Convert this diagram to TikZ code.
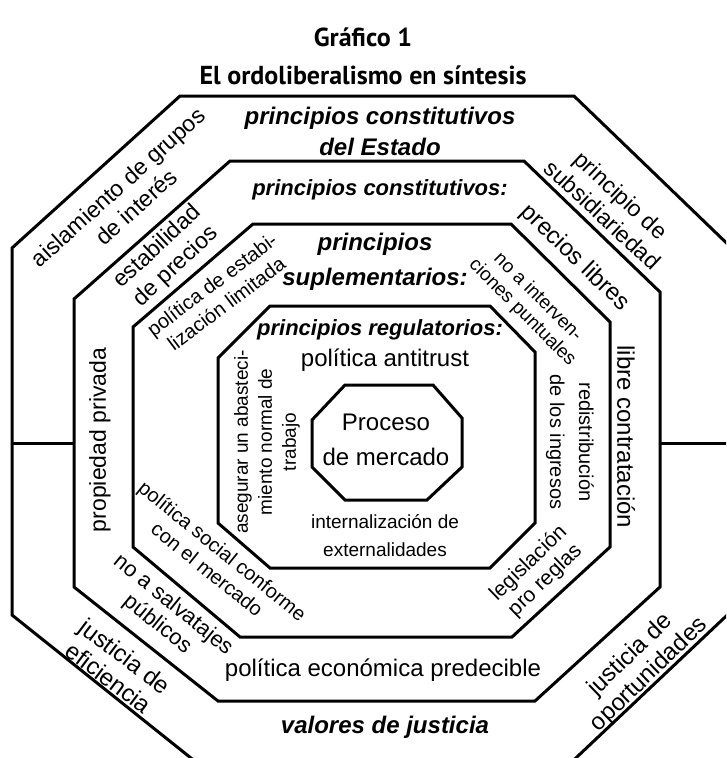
\documentclass[tikz,border=0pt]{standalone}
\usepackage{fontspec}
\setmainfont{Liberation Sans}
\newfontfamily\titlefont{PT Sans}
\usetikzlibrary{positioning}
\tikzset{
  ring/.style={line width=3pt, line join=miter},
  title/.style={font=\titlefont\bfseries\fontsize{26}{30}\selectfont, inner sep=0pt},
  head/.style 2 args={font=\bfseries\itshape\fontsize{#1}{#2}\selectfont, align=center, inner sep=0pt},
  lbl/.style 2 args={font=\fontsize{#1}{#2}\selectfont, align=center, inner sep=0pt},
}

\begin{document}
\begin{tikzpicture}[x=1pt, y=-1pt]
\useasboundingbox (0,0) rectangle (726,758);
\clip (0,0) rectangle (726,758);

\node[title] (title1) at (363,37) {Gráfico 1};
\node[title] (title2) at (363,75) {El ordoliberalismo en síntesis};

% rings, outside in
\draw[ring] (180,96) -- (574,96) -- (740,256) -- (740,603) -- (542,790)
  -- (231,790) -- (12,615) -- (12,248) -- cycle;
\draw[ring] (230,161) -- (524,161) -- (660,292) -- (660,587) -- (535,701)
  -- (218,701) -- (74,587) -- (74,299) -- cycle;
\draw[ring] (253,224) -- (511,224) -- (610,322) -- (610,547) -- (512,637)
  -- (240,637) -- (133,547) -- (133,327) -- cycle;
\draw[ring] (270,306) -- (490,306) -- (535,352) -- (535,523) -- (490,568)
  -- (270,568) -- (218,523) -- (218,358) -- cycle;
\draw[ring] (345,385) -- (433,385) -- (462,418) -- (462,467) -- (427,500)
  -- (345,500) -- (312,467) -- (312,420) -- cycle;

\coordinate (outerW) at (12,443);
\coordinate (ringW) at (74,443);
\coordinate (ringE) at (660,443);
\coordinate (outerE) at (740,443);
\draw[ring] (outerW) -- (ringW);
\draw[ring] (ringE) -- (outerE);

\node[head={24}{31}] (estado) at (380,131) {principios constitutivos\\del Estado};
\node[lbl={23}{27}, rotate=42] (grupos) at (127,197) {aislamiento de grupos\\de interés};
\node[lbl={23}{27}, rotate=-43] (subsid) at (612,205) {principio de\\subsidiariedad};

\node[head={22}{26}] (constit) at (380,190) {principios constitutivos:};
\node[lbl={23}{27}, rotate=43] (estab) at (167,257) {estabilidad\\de precios};
\node[lbl={24}{28}, rotate=-44] (precios) at (575,258) {precios libres};
\node[lbl={24}{28}, rotate=-90] (libre) at (626,437) {libre contratación};
\node[lbl={23}{28}, rotate=90] (propiedad) at (100,440) {propiedad privada};
\node[lbl={24}{28}] (predec) at (383,670) {política económica predecible};
\node[lbl={22}{25}, rotate=-39] (salvat) at (165,615) {no a salvatajes\\públicos};

\node[head={24}{35}] (supl) at (375,262) {principios\\suplementarios:};
\node[lbl={20}{24}, rotate=37] (estabi) at (219,294) {política de estabi-\\lización limitada};
\node[lbl={19}{22}, rotate=-45] (interv) at (530,305) {no a interven-\\ciones puntuales};
\node[lbl={20}{29}, rotate=-90] (redis) at (570,442) {redistribución\\de los ingresos};
\node[lbl={20}{24}, rotate=-39] (social) at (215,560) {política social conforme\\con el mercado};
\node[lbl={21}{24}, rotate=44] (legis) at (537,572) {legislación\\pro reglas};

\node[head={22}{26}] (regul) at (380,330) {principios regulatorios:};
\node[lbl={24}{28}] (antitrust) at (385,360) {política antitrust};
\node[lbl={19}{24}, rotate=90] (asegurar) at (267,442) {asegurar un abasteci-\\miento normal de\\trabajo};
\node[lbl={19}{28}] (intern) at (385,536) {internalización de\\externalidades};

\node[lbl={24}{35}] (proceso) at (386,440) {Proceso\\de mercado};

\node[lbl={24}{27}, rotate=-37] (eficiencia) at (117,667) {justicia de\\eficiencia};
\node[lbl={24}{27}, rotate=44] (oportun) at (640,665) {justicia de\\oportunidades};
\node[head={24}{28}] (valores) at (385,727) {valores de justicia};
\end{tikzpicture}
\end{document}
